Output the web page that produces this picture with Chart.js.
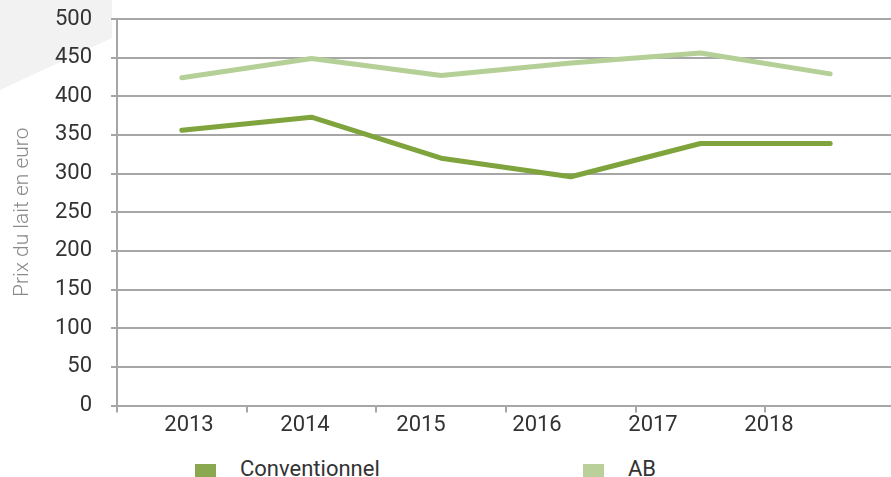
<!DOCTYPE html>
<html>
<head>
<meta charset="utf-8">
<script src="https://cdn.jsdelivr.net/npm/chart.js@4.4.1/dist/chart.umd.min.js"></script>
<style>
  html, body { margin: 0; padding: 0; background: #ffffff; overflow: hidden; }
  body { width: 891px; height: 477px; position: relative; font-family: Roboto, "DejaVu Sans", sans-serif; }
  #wrap { position: absolute; left: 0; top: 0; width: 896px; height: 439px; }
  .lg { position: absolute; top: 453px; height: 30px; display: flex; align-items: center; font-size: 22px; color: #333333; white-space: nowrap; }
  .lg span.box { display: inline-block; width: 21px; height: 21px; margin-right: 24px; margin-top: 12px; }
  .lg span.txt { margin-top: 0px; }
</style>
</head>
<body>
<div id="wrap"><canvas id="c"></canvas></div>
<div id="legend"></div>
<script>
// ---- data ----
const years = ['2013', '2014', '2015', '2016', '2017', '2018'];
const conventionnel = [356, 373, 320, 296, 339, 339];
const ab = [424, 449, 427, 443, 456, 429];
const seriesNames = ['Conventionnel', 'AB'];
const yTicks = [0, 50, 100, 150, 200, 250, 300, 350, 400, 450, 500];
const yTitle = 'Prix du lait en euro';

Chart.defaults.font.family = 'Roboto, "DejaVu Sans", sans-serif';

const bgShape = {
  id: 'bgShape',
  beforeDraw(chart) {
    const ctx = chart.ctx;
    ctx.save();
    ctx.fillStyle = '#f2f2f2';
    ctx.beginPath();
    ctx.moveTo(0, 0);
    ctx.lineTo(112, 0);
    ctx.lineTo(112, 38);
    ctx.lineTo(0, 90);
    ctx.closePath();
    ctx.fill();
    ctx.restore();
  }
};

const gridColor = '#a6a6a6';
const tickFont = { size: 22 };

const chart = new Chart(document.getElementById('c'), {
  type: 'line',
  data: {
    labels: years,
    datasets: [
      { label: seriesNames[0], data: conventionnel, borderColor: '#7fa33d', backgroundColor: '#8aa84f',
        borderWidth: 5, pointRadius: 0, tension: 0, borderCapStyle: 'round', borderJoinStyle: 'round' },
      { label: seriesNames[1], data: ab, borderColor: '#b5d096', backgroundColor: '#b9d09a',
        borderWidth: 5, pointRadius: 0, tension: 0, borderCapStyle: 'round', borderJoinStyle: 'round' }
    ]
  },
  options: {
    responsive: true,
    maintainAspectRatio: false,
    animation: false,
    layout: { padding: { top: 19, left: 0, right: 1, bottom: 0 } },
    plugins: { legend: { display: false }, tooltip: { enabled: false } },
    scales: {
      x: {
        type: 'category',
        offset: true,
        grid: { offset: true, drawOnChartArea: false, drawTicks: true, tickLength: 7, color: gridColor, lineWidth: 2 },
        border: { color: gridColor, width: 2 },
        ticks: { display: false }
      },
      xl: {
        type: 'linear',
        position: 'bottom',
        min: 2012.3793,
        max: 2019.0862,
        afterBuildTicks: (s) => { s.ticks = years.map(y => ({ value: Number(y) })); },
        grid: { display: false, drawTicks: false, tickLength: 0 },
        border: { display: false },
        ticks: {
          autoSkip: false,
          maxRotation: 0,
          padding: 0,
          font: tickFont,
          color: '#333333',
          callback: (v) => String(v)
        }
      },
      y: {
        min: 0,
        max: 500,
        afterBuildTicks: (s) => { s.ticks = yTicks.map(v => ({ value: v })); },
        afterFit: (s) => { s.width = 117; s.paddingTop = 0; s.paddingBottom = 0; },
        grid: { color: gridColor, lineWidth: 2, tickLength: 6 },
        border: { color: gridColor, width: 2 },
        ticks: { font: tickFont, color: '#333333', padding: 19 },
        title: { display: true, text: yTitle, color: '#8a8a8a', font: { size: 21, weight: '300' }, padding: { top: 10, bottom: 0 } }
      }
    }
  },
  plugins: [bgShape]
});

// HTML legend built from datasets
const legendPos = [195, 583];
const legendEl = document.getElementById('legend');
chart.data.datasets.forEach((ds, i) => {
  const item = document.createElement('div');
  item.className = 'lg';
  item.style.left = legendPos[i] + 'px';
  const box = document.createElement('span');
  box.className = 'box';
  box.style.background = ds.backgroundColor;
  const txt = document.createElement('span');
  txt.className = 'txt';
  txt.textContent = ds.label;
  item.appendChild(box);
  item.appendChild(txt);
  legendEl.appendChild(item);
});
</script>
</body>
</html>
